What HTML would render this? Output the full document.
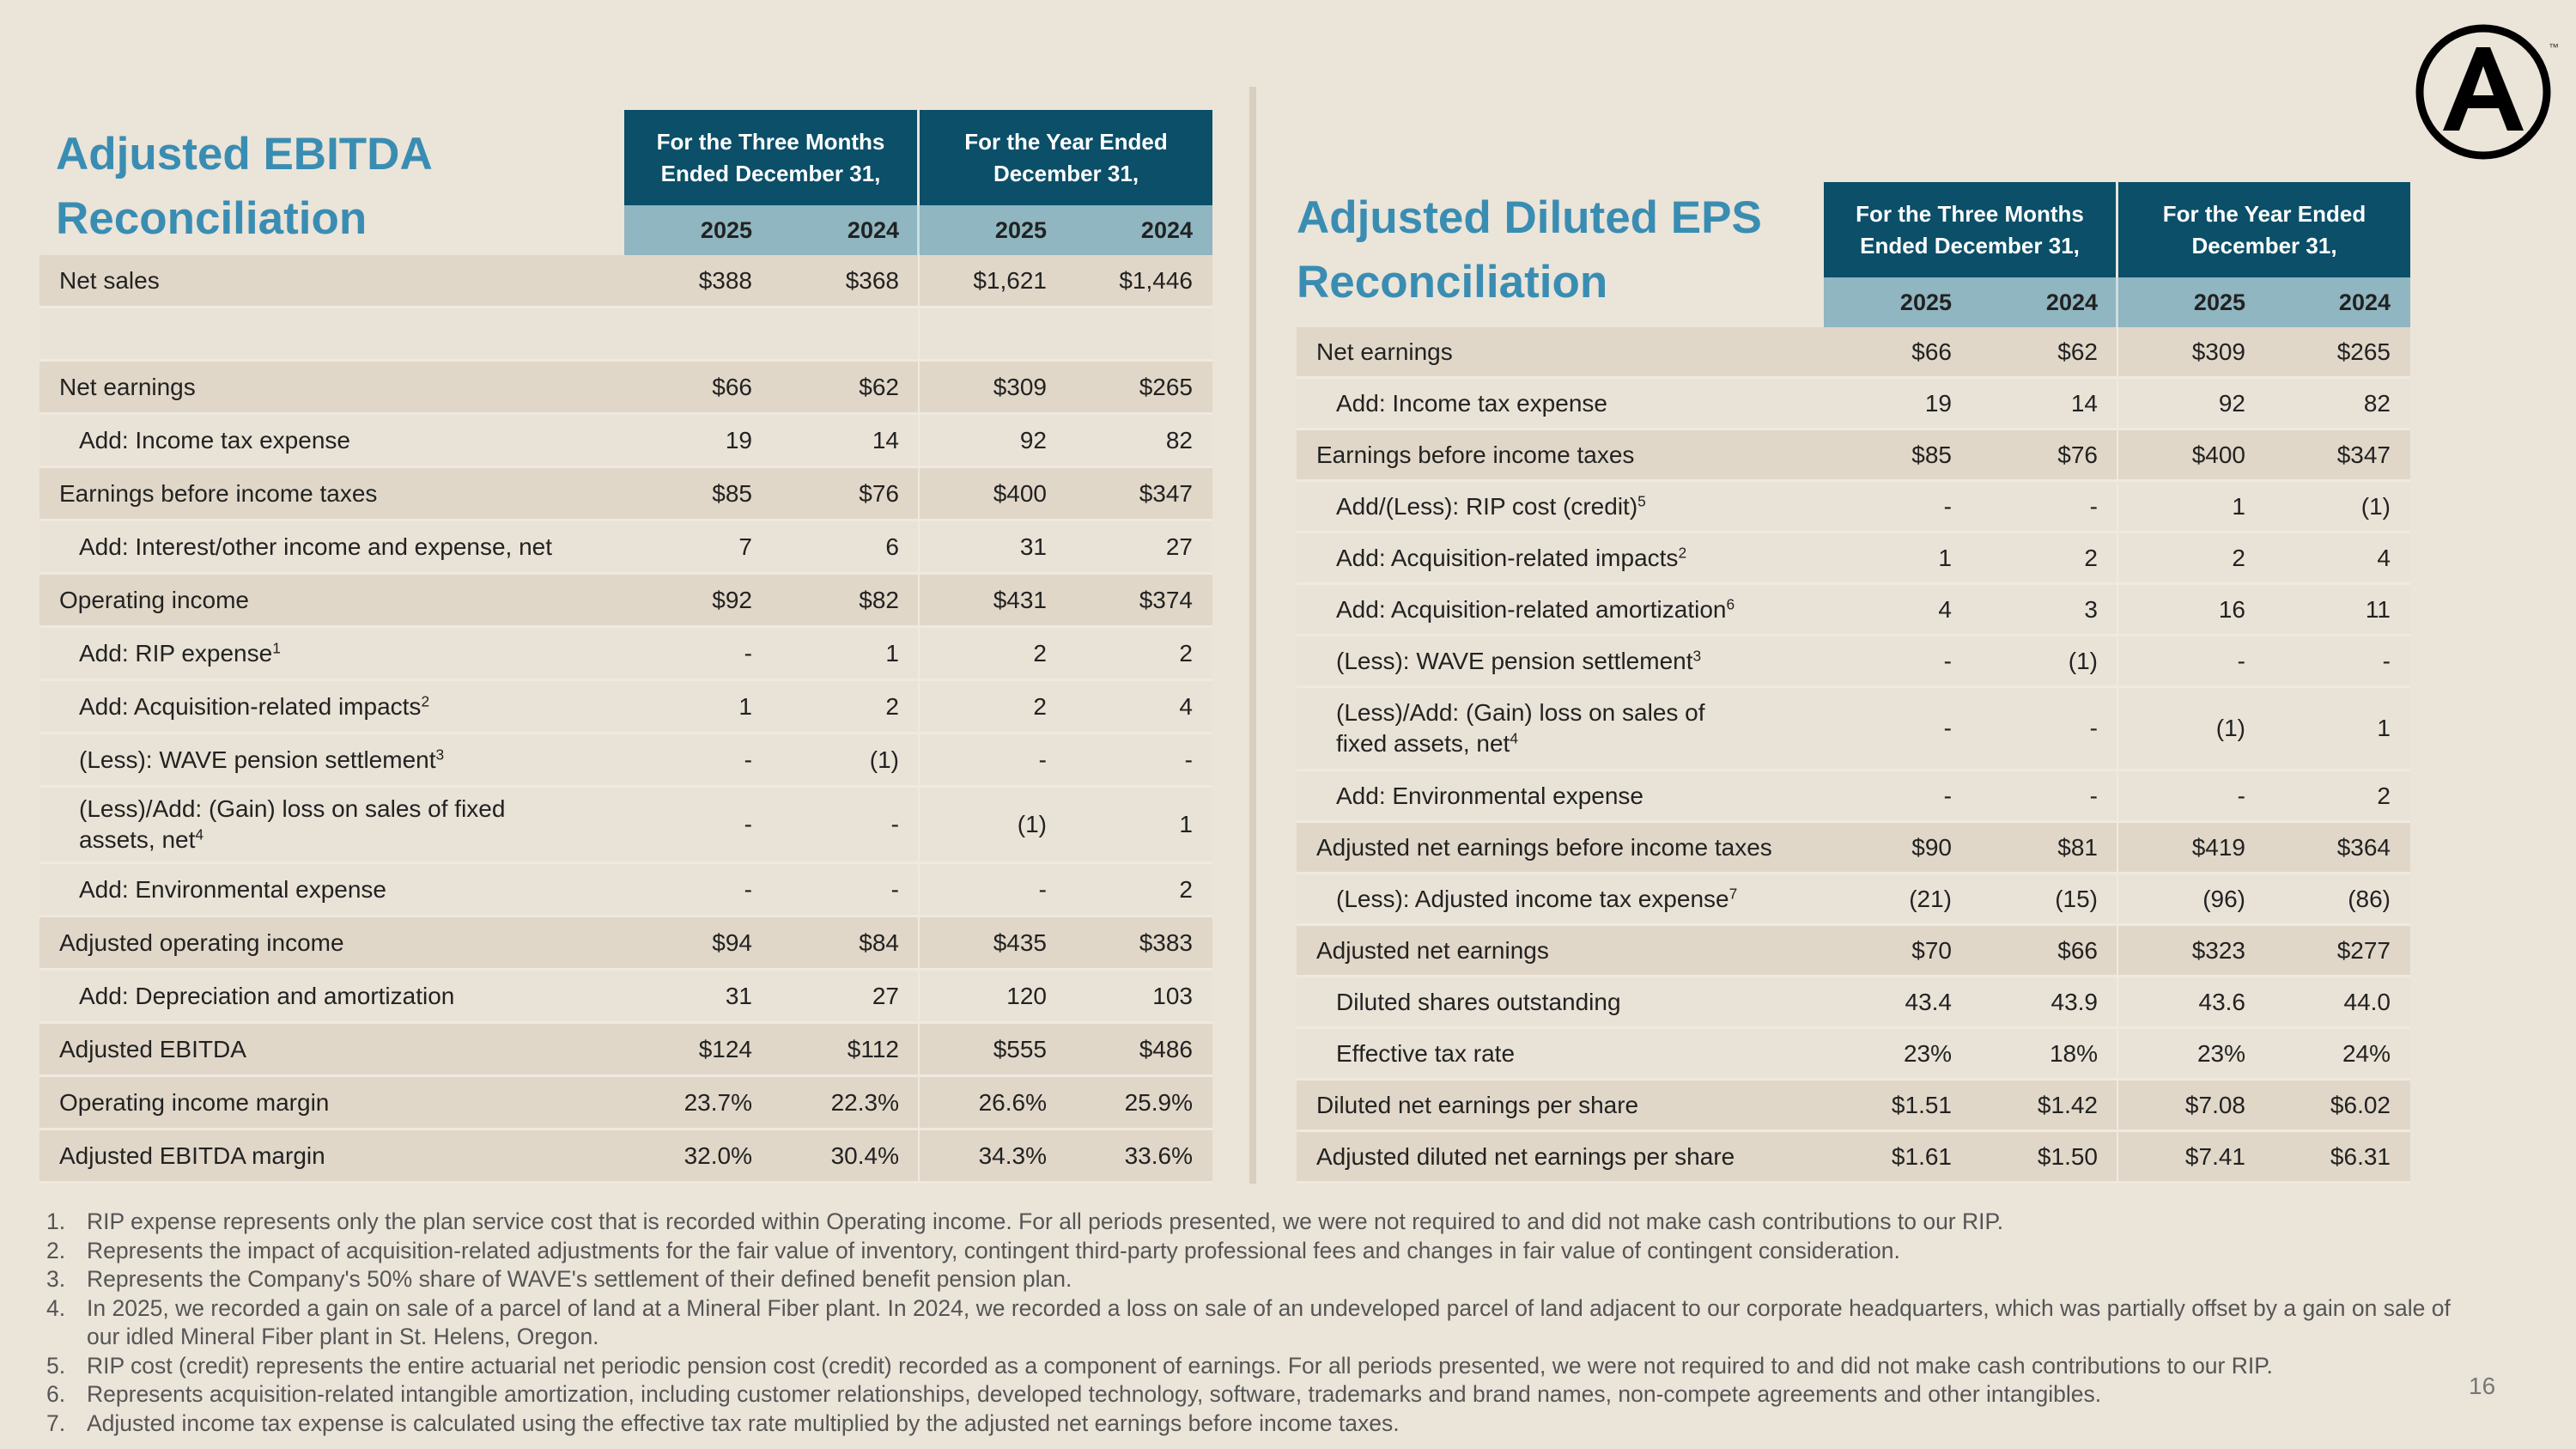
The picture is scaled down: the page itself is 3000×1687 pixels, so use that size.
<!DOCTYPE html>
<html><head><meta charset="utf-8">
<style>
body{margin:0;width:3000px;height:1687px;background:#ebe4d9;font-family:"Liberation Sans",sans-serif;position:relative;overflow:hidden;color:#222}
.a{position:absolute}
.title{color:#3a8db2;font-weight:bold;font-size:53px;line-height:75px}
.hd{background:#0b4f69;color:#fff;font-weight:bold;font-size:26px;line-height:37px;text-align:center;display:flex;align-items:center;justify-content:center;box-sizing:border-box}
.yr{background:#8fb6c1;font-weight:bold;font-size:27px;color:#222;box-sizing:border-box}
.row{box-sizing:border-box;border-bottom:3px solid #efe9e0;font-size:28px}
.lab{position:absolute;top:0;bottom:0;display:flex;align-items:center;line-height:36px}
.val{position:absolute;top:0;bottom:0;display:flex;align-items:center;justify-content:flex-end}
sup{font-size:0.62em;line-height:0;vertical-align:0.55em}
.fn{font-size:26.5px;color:#555;line-height:33.5px}
</style></head><body>
<div class="a title" style="left:65px;top:142px">Adjusted EBITDA<br>Reconciliation</div>
<div class="a title" style="left:1510px;top:216px">Adjusted Diluted EPS<br>Reconciliation</div>
<div class="a" style="left:1455px;top:101px;width:8px;height:1277px;background:#d9cfbf"></div>
<svg class="a" style="left:2800px;top:15px" width="190" height="180" viewBox="0 0 190 180">
<circle cx="92" cy="92" r="74" fill="none" stroke="#000" stroke-width="9"/>
<path d="M84 40 L100 40 L139 137 L120 137 L110 111 L74 111 L64 137 L45 137 Z M80 96 L104 96 L92 62 Z" fill="#000"/>
<text x="168" y="44" font-size="12" font-family="Liberation Sans" fill="#333">™</text>
</svg>
<div id="root"></div>
<div class="a fn" style="left:54px;top:1406px;width:2900px">
<div style="position:relative;padding-left:47px"><span style="position:absolute;left:0">1.</span>RIP expense represents only the plan service cost that is recorded within Operating income. For all periods presented, we were not required to and did not make cash contributions to our RIP.</div>
<div style="position:relative;padding-left:47px"><span style="position:absolute;left:0">2.</span>Represents the impact of acquisition-related adjustments for the fair value of inventory, contingent third-party professional fees and changes in fair value of contingent consideration.</div>
<div style="position:relative;padding-left:47px"><span style="position:absolute;left:0">3.</span>Represents the Company's 50% share of WAVE's settlement of their defined benefit pension plan.</div>
<div style="position:relative;padding-left:47px;white-space:nowrap"><span style="position:absolute;left:0">4.</span>In 2025, we recorded a gain on sale of a parcel of land at a Mineral Fiber plant. In 2024, we recorded a loss on sale of an undeveloped parcel of land adjacent to our corporate headquarters, which was partially offset by a gain on sale of<br>our idled Mineral Fiber plant in St. Helens, Oregon.</div>
<div style="position:relative;padding-left:47px"><span style="position:absolute;left:0">5.</span>RIP cost (credit) represents the entire actuarial net periodic pension cost (credit) recorded as a component of earnings. For all periods presented, we were not required to and did not make cash contributions to our RIP.</div>
<div style="position:relative;padding-left:47px"><span style="position:absolute;left:0">6.</span>Represents acquisition-related intangible amortization, including customer relationships, developed technology, software, trademarks and brand names, non-compete agreements and other intangibles.</div>
<div style="position:relative;padding-left:47px"><span style="position:absolute;left:0">7.</span>Adjusted income tax expense is calculated using the effective tax rate multiplied by the adjusted net earnings before income taxes.</div>
</div>
<div class="a" style="left:2875px;top:1598px;font-size:28px;color:#777">16</div>
<script>
const leftLabels=["Net sales","","Net earnings","Add: Income tax expense","Earnings before income taxes","Add: Interest/other income and expense, net","Operating income","Add: RIP expense<sup>1</sup>","Add: Acquisition-related impacts<sup>2</sup>","(Less): WAVE pension settlement<sup>3</sup>","(Less)/Add: (Gain) loss on sales of fixed<br>assets, net<sup>4</sup>","Add: Environmental expense","Adjusted operating income","Add: Depreciation and amortization","Adjusted EBITDA","Operating income margin","Adjusted EBITDA margin"];
const leftQ25=["$388","","$66","19","$85","7","$92","-","1","-","-","-","$94","31","$124","23.7%","32.0%"];
const leftQ24=["$368","","$62","14","$76","6","$82","1","2","(1)","-","-","$84","27","$112","22.3%","30.4%"];
const leftY25=["$1,621","","$309","92","$400","31","$431","2","2","-","(1)","-","$435","120","$555","26.6%","34.3%"];
const leftY24=["$1,446","","$265","82","$347","27","$374","2","4","-","1","2","$383","103","$486","25.9%","33.6%"];
const leftIndent=[0,0,0,1,0,1,0,1,1,1,1,1,0,1,0,0,0];
const leftDark=[1,0,1,0,1,0,1,0,0,0,0,0,1,0,1,1,1];
const rightLabels=["Net earnings","Add: Income tax expense","Earnings before income taxes","Add/(Less): RIP cost (credit)<sup>5</sup>","Add: Acquisition-related impacts<sup>2</sup>","Add: Acquisition-related amortization<sup>6</sup>","(Less): WAVE pension settlement<sup>3</sup>","(Less)/Add: (Gain) loss on sales of<br>fixed assets, net<sup>4</sup>","Add: Environmental expense","Adjusted net earnings before income taxes","(Less): Adjusted income tax expense<sup>7</sup>","Adjusted net earnings","Diluted shares outstanding","Effective tax rate","Diluted net earnings per share","Adjusted diluted net earnings per share"];
const rightQ25=["$66","19","$85","-","1","4","-","-","-","$90","(21)","$70","43.4","23%","$1.51","$1.61"];
const rightQ24=["$62","14","$76","-","2","3","(1)","-","-","$81","(15)","$66","43.9","18%","$1.42","$1.50"];
const rightY25=["$309","92","$400","1","2","16","-","(1)","-","$419","(96)","$323","43.6","23%","$7.08","$7.41"];
const rightY24=["$265","82","$347","(1)","4","11","-","1","2","$364","(86)","$277","44.0","24%","$6.02","$6.31"];
const rightIndent=[0,1,0,1,1,1,1,1,1,0,1,0,1,1,0,0];
const rightDark=[1,0,1,0,0,0,0,0,0,1,0,1,0,0,1,1];

const root=document.getElementById('root');
function mk(cls,style,html){const d=document.createElement('div');d.className=cls;d.style.cssText=style;if(html!==undefined)d.innerHTML=html;return d;}
function build(prefix,x0,xc,cols,hy0,hy1,hy2,rowH,dblH,dblIdx,labels,q25,q24,y25,y24,indent,dark){
  const right=cols[4];
  const h1=mk('a hd','left:'+cols[0]+'px;top:'+hy0+'px;width:'+(cols[2]-cols[0]-2)+'px;height:'+(hy1-hy0)+'px','For the Three Months<br>Ended December 31,');
  
  
  root.appendChild(h1);
  const h2=mk('a hd','left:'+(cols[2]+1)+'px;top:'+hy0+'px;width:'+(cols[4]-cols[2]-1)+'px;height:'+(hy1-hy0)+'px','For the Year Ended<br>December 31,');
  
  
  root.appendChild(h2);
  const yrs=mk('a yr','left:'+cols[0]+'px;top:'+hy1+'px;width:'+(cols[4]-cols[0])+'px;height:'+(hy2-hy1)+'px');
  
  
  ['2025','2024','2025','2024'].forEach((t,i)=>{const v=mk('val','left:'+(cols[i]-cols[0])+'px;width:'+(cols[i+1]-cols[i]-23)+'px',t);yrs.appendChild(v);});
  const sep=mk('a','left:'+(cols[2]-cols[0]-2)+'px;top:0;width:3px;height:100%;background:#cfdde1','');
  yrs.appendChild(sep);
  root.appendChild(yrs);
  let y=hy2;
  labels.forEach((lab,i)=>{
    const h=(i===dblIdx)?dblH:rowH;
    const r=mk('a row','left:'+x0+'px;top:'+y+'px;width:'+(right-x0)+'px;height:'+h+'px;background:'+(dark[i]?'#e1d7c8':'#e9e2d6'));
    
    
    r.appendChild(mk('lab','left:'+(indent[i]?46:23)+'px','<span>'+lab+'</span>'));
    [q25[i],q24[i],y25[i],y24[i]].forEach((v,j)=>{r.appendChild(mk('val','left:'+(cols[j]-x0)+'px;width:'+(cols[j+1]-cols[j]-23)+'px',v));});
    r.appendChild(mk('a','left:'+(cols[2]-x0-1)+'px;top:0;width:2px;height:100%;background:#efe9e0',''));
    root.appendChild(r);
    y+=h;
  });
}
build('ebitda',46,727,[727,899,1070,1242,1412],128,239,297,62,89,10,leftLabels,leftQ25,leftQ24,leftY25,leftY24,leftIndent,leftDark);
build('eps',1510,2124,[2124,2296,2466,2638,2807],212,323,381,60,97,7,rightLabels,rightQ25,rightQ24,rightY25,rightY24,rightIndent,rightDark);
</script>
</body></html>
